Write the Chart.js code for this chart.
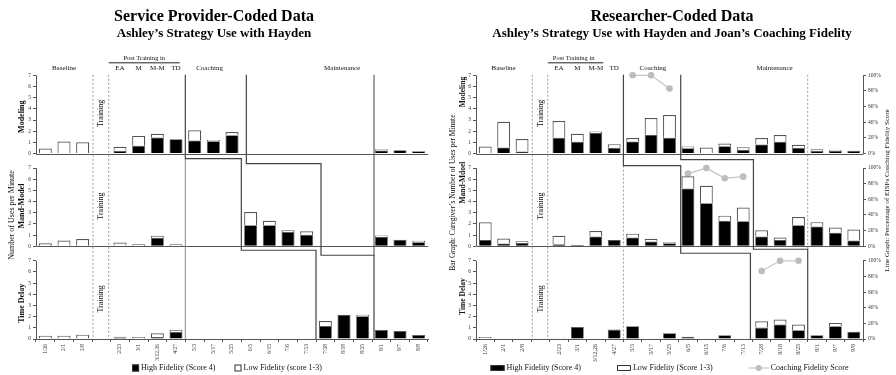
<!DOCTYPE html>
<html>
<head>
<meta charset="utf-8">
<script src="https://cdn.jsdelivr.net/npm/chart.js@4.4.1/dist/chart.umd.min.js"></script>
<style>
  html, body { margin: 0; padding: 0; background: #fff; }
  #wrap { position: relative; width: 896px; height: 375px; }
  .half { position: absolute; top: 0; width: 448px; height: 375px; }
</style>
</head>
<body>
<div id="wrap">
  <div class="half" style="left:0"><canvas id="spChart"></canvas></div>
  <div class="half" style="left:448px"><canvas id="rcChart"></canvas></div>
</div>
<script>
// ---- data (uses per minute); slot 4 is the "Training" gap ----
var dates = ['1/26', '2/1', '2/8', '', '2/23', '3/1', '3/12,26', '4/27', '5/3', '5/17', '5/25',
  '6/5', '6/15', '7/6', '7/13', '7/28', '8/18', '8/25', '9/1', '9/7', '9/8'];
var yTicks = [0, 1, 2, 3, 4, 5, 6, 7];
var pctTicks = [0, 20, 40, 60, 80, 100];

// Service provider-coded
var spModelHigh = [0, 0, 0, null, 0.24, 0.7, 1.43, 1.28, 1.16, 1.1, 1.64, 0, 0, 0, 0, 0, 0, 0, 0.27, 0.3, 0.2];
var spModelLow  = [0.45, 1.07, 1.0, null, 0.36, 0.88, 0.33, 0, 0.92, 0.12, 0.29, 0, 0, 0, 0, 0, 0, 0, 0.12, 0, 0];
var spMandHigh  = [0, 0, 0, null, 0, 0, 0.76, 0, 0, 0, 0, 1.89, 1.89, 1.28, 1.03, 0, 0, 0, 0.85, 0.58, 0.37];
var spMandLow   = [0.27, 0.52, 0.64, null, 0.33, 0.18, 0.18, 0.18, 0, 0, 0, 1.18, 0.39, 0.15, 0.31, 0, 0, 0, 0.12, 0, 0.12];
var spDelayHigh = [0, 0, 0, null, 0.15, 0, 0.18, 0.63, 0, 0, 0, 0, 0, 0, 0, 1.16, 2.17, 2.03, 0.8, 0.71, 0.36];
var spDelayLow  = [0.3, 0.3, 0.39, null, 0.06, 0.18, 0.33, 0.2, 0, 0, 0, 0, 0, 0, 0, 0.45, 0, 0.14, 0, 0, 0];

// Researcher-coded
var rcModelHigh = [0, 0.54, 0.18, null, 1.41, 1.05, 1.83, 0.51, 1.08, 1.68, 1.41, 0.48, 0, 0.66, 0.33, 0.81, 1.05, 0.51, 0.24, 0.24, 0.24];
var rcModelLow  = [0.63, 2.31, 1.11, null, 1.5, 0.72, 0.15, 0.33, 0.3, 1.5, 2.04, 0.15, 0.54, 0.24, 0.24, 0.57, 0.6, 0.27, 0.15, 0.09, 0];
var rcMandHigh  = [0.55, 0.25, 0.3, null, 0.18, 0.12, 0.88, 0.55, 0.79, 0.43, 0.27, 5.17, 3.86, 2.28, 2.25, 0.88, 0.55, 1.89, 1.77, 1.22, 0.52];
var rcMandLow   = [1.6, 0.45, 0.16, null, 0.76, 0, 0.49, 0, 0.34, 0.24, 0.1, 1.1, 1.56, 0.46, 1.22, 0.55, 0.24, 0.73, 0.39, 0.45, 0.97];
var rcDelayHigh = [0, 0, 0, null, 0, 1.08, 0, 0.84, 1.14, 0, 0.51, 0.21, 0, 0.33, 0, 1.02, 1.3, 0.78, 0.33, 1.14, 0.66];
var rcDelayLow  = [0.18, 0, 0, null, 0.12, 0, 0, 0, 0, 0, 0, 0, 0, 0, 0, 0.57, 0.44, 0.51, 0, 0.3, 0];

// Coaching fidelity (%), only during coaching sessions
var fidModel = [null, null, null, null, null, null, null, null, 100, 100, 83, null, null, null, null, null, null, null, null, null, null];
var fidMand  = [null, null, null, null, null, null, null, null, null, null, null, 93, 100, 87, 89, null, null, null, null, null, null];
var fidDelay = [null, null, null, null, null, null, null, null, null, null, null, null, null, null, null, 87, 100, 100, null, null, null];

var SERIF = '"Liberation Serif", "Times New Roman", serif';
var PANEL_MAX = 8.3;   // room above 7 inside each stacked panel

Chart.defaults.font.family = SERIF;
Chart.defaults.color = '#222';
Chart.defaults.animation = false;

function barSet(label, data, axis, fill, legendText) {
  return {
    type: 'bar', label: label, data: data, yAxisID: axis, stack: 's',
    backgroundColor: fill, borderColor: '#555', borderWidth: fill === '#000' ? 0.8 : 1.2,
    barPercentage: 0.7, categoryPercentage: 1, legendText: legendText
  };
}

function lineSet(label, data, axis, legendText) {
  return {
    type: 'line', label: label, data: data, yAxisID: axis,
    borderColor: '#c8c8c8', borderWidth: 1.3, backgroundColor: '#bdbdbd',
    pointRadius: 3.3, pointBackgroundColor: '#bdbdbd', pointBorderWidth: 0,
    spanGaps: false, legendText: legendText
  };
}

function yAxis(weight, width, pct) {
  var ax = {
    type: 'linear', position: pct ? 'right' : 'left', stack: pct ? 'R' : 'L',
    stackWeight: 1, weight: weight, stacked: !pct,
    min: 0, max: pct ? 100 * PANEL_MAX / 7 : PANEL_MAX,
    border: { display: false },
    grid: { drawOnChartArea: false, tickLength: 3, color: '#555' },
    ticks: { font: { size: 5.5 }, padding: 2, color: '#333', autoSkip: false },
    afterBuildTicks: function (s) {
      s.ticks = (pct ? pctTicks : yTicks).map(function (v) { return { value: v }; });
    },
    afterFit: function (s) { s.width = width; }
  };
  if (pct) ax.ticks.callback = function (v) { return v + '%'; };
  return ax;
}

function xAxis(size) {
  return {
    type: 'category', offset: true, stacked: true,
    border: { display: true, color: '#555' },
    grid: { drawOnChartArea: false, tickLength: 3, color: '#555' },
    ticks: { font: { size: size }, color: '#333', minRotation: 90, maxRotation: 90, autoSkip: false, padding: 2 },
    afterFit: function (s) { s.height = 36; }
  };
}

// ---- phase lines, panel frames, labels and legend ----
function phasePlugin(cfg) {
  return {
    id: 'phase',
    afterDatasetsDraw: function (chart) {
      var ctx = chart.ctx, x = chart.scales.x, area = chart.chartArea;
      var ys = ['y0', 'y1', 'y2'].map(function (id) { return chart.scales[id]; });
      function bnd(i) { return (x.getPixelForValue(i) + x.getPixelForValue(i + 1)) / 2; }
      function zero(p) { return ys[p].getPixelForValue(0); }
      function top(p) { return ys[p].getPixelForValue(7.05); }
      function txt(s, px, py, size, bold, rot, align) {
        ctx.save();
        ctx.translate(px, py);
        if (rot) ctx.rotate(-Math.PI / 2);
        ctx.font = (bold ? 'bold ' : '') + size + 'px ' + SERIF;
        ctx.fillStyle = '#111';
        ctx.textAlign = align || 'center';
        ctx.textBaseline = 'middle';
        ctx.fillText(s, 0, 0);
        ctx.restore();
      }

      ctx.save();
      // baselines + y axis lines
      ctx.strokeStyle = '#555';
      ctx.lineWidth = 1;
      ys.forEach(function (s, p) {
        var y0 = Math.round(zero(p)) + 0.5;
        var xl = Math.round(area.left) + 0.5;
        ctx.beginPath(); ctx.moveTo(xl, y0); ctx.lineTo(area.right, y0); ctx.stroke();
        ctx.beginPath(); ctx.moveTo(xl, y0); ctx.lineTo(xl, s.getPixelForValue(7)); ctx.stroke();
        if (cfg.pct) {
          var xr = Math.round(area.right) + 0.5;
          ctx.beginPath(); ctx.moveTo(xr, y0); ctx.lineTo(xr, s.getPixelForValue(7)); ctx.stroke();
        }
      });

      // training gap: dashed borders + rotated label
      ctx.strokeStyle = '#999';
      ctx.setLineDash([2, 2]);
      [bnd(2) + 1, bnd(3) - 2].forEach(function (px) {
        ctx.beginPath(); ctx.moveTo(px, top(0)); ctx.lineTo(px, zero(2)); ctx.stroke();
      });
      ctx.setLineDash([]);
      ys.forEach(function (s) {
        txt('Training', x.getPixelForValue(3), s.getPixelForValue(3.6), 8, false, true);
      });

      // extra phase separators
      cfg.extras.forEach(function (e) {
        var px = bnd(e.cut) + e.dx;
        ctx.strokeStyle = e.color;
        ctx.setLineDash(e.dash ? [2, 2] : []);
        ctx.beginPath();
        ctx.moveTo(px, e.fromTop ? top(0) : zero(e.from) + e.fromDy);
        ctx.lineTo(px, zero(e.to) + e.toDy);
        ctx.stroke();
      });
      ctx.setLineDash([]);

      // multiple-baseline step lines
      ctx.strokeStyle = '#444';
      ctx.lineWidth = 1.2;
      cfg.steps.forEach(function (st) {
        var xa = bnd(st.cuts[0]) + st.dx[0], xb = bnd(st.cuts[1]) + st.dx[1], xc = bnd(st.cuts[2]) + st.dx[2];
        var h1 = zero(0) + st.dy[0], h2 = zero(1) + st.dy[1];
        ctx.beginPath();
        ctx.moveTo(xa, top(0));
        ctx.lineTo(xa, h1); ctx.lineTo(xb, h1);
        ctx.lineTo(xb, h2); ctx.lineTo(xc, h2);
        ctx.lineTo(xc, zero(2));
        ctx.stroke();
      });

      // phase names above panel 1
      var yl = ys[0].getPixelForValue(7) - 7;
      cfg.phases.forEach(function (ph) { txt(ph[0], x.getPixelForValue(ph[1]), yl, 7); });
      txt('Post Training in', x.getPixelForValue(cfg.post[0]), yl - 10, 6.5);
      ctx.strokeStyle = '#222';
      ctx.lineWidth = 1;
      ctx.beginPath();
      ctx.moveTo(x.getPixelForValue(cfg.post[1]), yl - 5.5);
      ctx.lineTo(x.getPixelForValue(cfg.post[2]), yl - 5.5);
      ctx.stroke();

      // axis titles
      cfg.titles.forEach(function (t) {
        txt(t.text, t.x, ys[t.panel].getPixelForValue(t.at), t.size, t.bold, true);
      });

      // legend
      ctx.font = cfg.legendSize + 'px ' + SERIF;
      var items = chart.data.datasets.filter(function (d) { return d.legendText; });
      var widths = items.map(function (d) {
        var bw = d.type === 'line' ? 20 : cfg.box[0];
        return bw + 2 + ctx.measureText(d.legendText).width;
      });
      var total = widths.reduce(function (a, b) { return a + b; }, 0) + cfg.legendGap * (items.length - 1);
      var lx = (area.left + area.right) / 2 + cfg.legendDx - total / 2;
      var ly = chart.height - 7;
      items.forEach(function (d, i) {
        if (d.type === 'line') {
          ctx.strokeStyle = d.borderColor; ctx.lineWidth = 1.3;
          ctx.beginPath(); ctx.moveTo(lx, ly); ctx.lineTo(lx + 20, ly); ctx.stroke();
          ctx.fillStyle = d.pointBackgroundColor;
          ctx.beginPath(); ctx.arc(lx + 10, ly, 3, 0, Math.PI * 2); ctx.fill();
          txt(d.legendText, lx + 22, ly, cfg.legendSize, false, false, 'left');
        } else {
          ctx.fillStyle = d.backgroundColor;
          ctx.fillRect(lx, ly - cfg.box[1] / 2, cfg.box[0], cfg.box[1]);
          ctx.strokeStyle = '#333'; ctx.lineWidth = 1;
          ctx.strokeRect(lx + 0.5, ly - cfg.box[1] / 2 + 0.5, cfg.box[0] - 1, cfg.box[1] - 1);
          txt(d.legendText, lx + cfg.box[0] + 2, ly, cfg.legendSize, false, false, 'left');
        }
        lx += widths[i] + cfg.legendGap;
      });
      ctx.restore();
    }
  };
}

function titleOpts(title, sub) {
  return {
    title: { display: true, text: title, color: '#000', font: { size: 16, weight: 'bold' }, padding: { top: 7, bottom: 0 } },
    subtitle: { display: true, text: sub, color: '#000', font: { size: 13, weight: 'bold' }, padding: { top: 0, bottom: 19 } },
    legend: { display: false },
    tooltip: { enabled: false }
  };
}

// ---- 1. Service Provider-Coded ----
new Chart(document.getElementById('spChart'), {
  type: 'bar',
  data: {
    labels: dates,
    datasets: [
      barSet('High', spModelHigh, 'y0', '#000', 'High Fidelity (Score 4)'),
      barSet('Low', spModelLow, 'y0', '#fff', 'Low Fidelity (score 1-3)'),
      barSet('High', spMandHigh, 'y1', '#000'),
      barSet('Low', spMandLow, 'y1', '#fff'),
      barSet('High', spDelayHigh, 'y2', '#000'),
      barSet('Low', spDelayLow, 'y2', '#fff')
    ]
  },
  options: {
    responsive: true, maintainAspectRatio: false, devicePixelRatio: 1,
    layout: { padding: { left: 0, right: 20, top: 0, bottom: 0 } },
    plugins: titleOpts('Service Provider-Coded Data', 'Ashley\u2019s Strategy Use with Hayden'),
    scales: {
      x: xAxis(5.5),
      y0: yAxis(3, 36), y1: yAxis(2, 36), y2: yAxis(1, 36)
    }
  },
  plugins: [phasePlugin({
    pct: false,
    steps: [
      { cuts: [7, 10, 14], dx: [0, 0, 0], dy: [5, 4] },
      { cuts: [10, 14, 17], dx: [5, 5, 2], dy: [10, 9] }
    ],
    extras: [
      { cut: 7, dx: 0, from: 0, fromDy: 5, to: 2, toDy: 0, color: '#888' },
      { cut: 17, dx: 2, fromTop: true, to: 1, toDy: 9, color: '#444' }
    ],
    phases: [['Baseline', 1], ['EA', 4], ['M', 5], ['M-M', 6], ['TD', 7], ['Coaching', 8.8], ['Maintenance', 15.9]],
    post: [5.3, 3.4, 7.2],
    titles: [
      { text: 'Modeling', x: 22, panel: 0, at: 3.3, size: 8, bold: true },
      { text: 'Number of Uses per Minute', x: 12, panel: 1, at: 2.8, size: 8 },
      { text: 'Mand-Model', x: 22, panel: 1, at: 3.6, size: 8, bold: true },
      { text: 'Time Delay', x: 22, panel: 2, at: 3.2, size: 8, bold: true }
    ],
    legendSize: 8, legendGap: 19, legendDx: -5, box: [7, 7]
  })]
});

// ---- 2. Researcher-Coded + coaching fidelity ----
new Chart(document.getElementById('rcChart'), {
  type: 'bar',
  data: {
    labels: dates,
    datasets: [
      barSet('High', rcModelHigh, 'y0', '#000', 'High Fidelity (Score 4)'),
      barSet('Low', rcModelLow, 'y0', '#fff', 'Low Fidelity (Score 1-3)'),
      lineSet('Fidelity', fidModel, 'p0', 'Coaching Fidelity Score'),
      barSet('High', rcMandHigh, 'y1', '#000'),
      barSet('Low', rcMandLow, 'y1', '#fff'),
      lineSet('Fidelity', fidMand, 'p1'),
      barSet('High', rcDelayHigh, 'y2', '#000'),
      barSet('Low', rcDelayLow, 'y2', '#fff'),
      lineSet('Fidelity', fidDelay, 'p2')
    ]
  },
  options: {
    responsive: true, maintainAspectRatio: false, devicePixelRatio: 1,
    layout: { padding: 0 },
    plugins: titleOpts('Researcher-Coded Data', 'Ashley\u2019s Strategy Use with Hayden and Joan\u2019s Coaching Fidelity'),
    scales: {
      x: xAxis(6),
      y0: yAxis(3, 28), y1: yAxis(2, 28), y2: yAxis(1, 28),
      p0: yAxis(1, 33, true), p1: yAxis(2, 33, true), p2: yAxis(3, 33, true)
    }
  },
  plugins: [phasePlugin({
    pct: true,
    steps: [
      { cuts: [7, 10, 14], dx: [0, 2, -2], dy: [12, 7] },
      { cuts: [10, 14, 17], dx: [2, 1, 0], dy: [6, 3] }
    ],
    extras: [
      { cut: 7, dx: 0, from: 0, fromDy: 12, to: 2, toDy: 0, color: '#999', dash: true },
      { cut: 17, dx: 0, fromTop: true, to: 1, toDy: 3, color: '#999', dash: true }
    ],
    phases: [['Baseline', 1], ['EA', 4], ['M', 5], ['M-M', 6], ['TD', 7], ['Coaching', 9.1], ['Maintenance', 15.7]],
    post: [4.8, 3.4, 6.4],
    titles: [
      { text: 'Bar Graph: Caregiver\u2019s Number of Uses per Minute', x: 5, panel: 1, at: 4.8, size: 7.5 },
      { text: 'Modeling', x: 15, panel: 0, at: 5.5, size: 7.5, bold: true },
      { text: 'Mand-Mdoel', x: 15, panel: 1, at: 5.7, size: 7.5, bold: true },
      { text: 'Time Delay', x: 15, panel: 2, at: 3.8, size: 7.5, bold: true },
      { text: 'Line Graph: Percentage of EISPs Coaching Fidelity Score', x: 439, panel: 1, at: 5.0, size: 7 }
    ],
    legendSize: 8, legendGap: 36, legendDx: 0, box: [14, 6]
  })]
});
</script>
</body>
</html>
